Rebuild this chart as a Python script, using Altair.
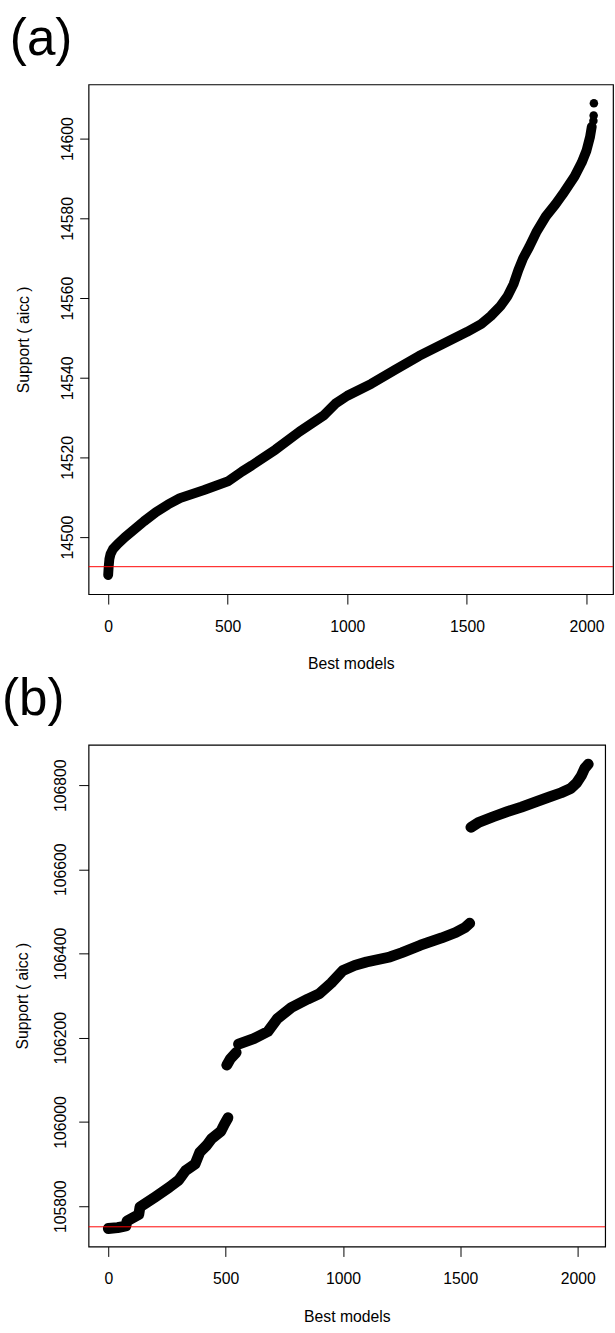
import altair as alt
import pandas as pd

FONT = "Liberation Sans"
panel_labels = ["(a)", "(b)"]
x_title = "Best models"
y_title = "Support ( aicc )"
x_ticks = [0, 500, 1000, 1500, 2000]

# ---- panel (a) ----
a_idx = [0, 2, 5, 10, 20, 40, 70, 100, 150, 200, 250, 300, 400, 500, 560, 600,
         700, 800, 900, 950, 1000, 1100, 1200, 1300, 1400, 1500, 1560, 1600,
         1640, 1670, 1695, 1715, 1735, 1760, 1790, 1830, 1870, 1900, 1950, 1980,
         2000, 2015, 2022]
a_val = [14490.5, 14492.5, 14494.5, 14495.8, 14497.0, 14498.3, 14500.0, 14501.5,
         14504.0, 14506.3, 14508.2, 14509.8, 14511.8, 14514.0, 14516.5, 14518.0,
         14522.0, 14526.5, 14530.5, 14533.5, 14535.5, 14538.5, 14542.0, 14545.5,
         14548.5, 14551.5, 14553.5, 14555.5, 14558.0, 14560.5, 14563.5, 14567.0,
         14570.0, 14572.8, 14576.5, 14580.5, 14583.5, 14586.0, 14590.5, 14594.0,
         14597.0, 14600.5, 14603.0]
a_dot_idx = [2029, 2030, 2031]
a_dot_val = [14604.5, 14605.8, 14608.9]
a_ref = 14492.6
a_y_ticks = [14500, 14520, 14540, 14560, 14580, 14600]

# ---- panel (b) ----
b_seg = ([1] * 17) + ([2] * 3) + ([3] * 18) + ([4] * 13)
b_idx = [0, 40, 75, 80, 130, 135, 200, 260, 300, 330, 370, 390, 420, 440, 480, 495, 510,
         505, 520, 545,
         555, 620, 680, 720, 780, 850, 900, 950, 1000, 1050, 1100, 1200, 1250, 1330, 1420, 1480, 1520, 1540,
         1545, 1580, 1640, 1700, 1760, 1830, 1880, 1930, 1970, 1995, 2015, 2030, 2045]
b_val = [105747, 105749, 105753, 105765, 105780, 105798, 105822, 105845, 105862, 105885,
         105900, 105928, 105945, 105960, 105978, 105995, 106010,
         106135, 106150, 106165,
         106185, 106198, 106215, 106245, 106272, 106292, 106305, 106330, 106360, 106372,
         106380, 106392, 106402, 106420, 106437, 106450, 106462, 106472,
         106700, 106712, 106725, 106737, 106748, 106762, 106772, 106782, 106792, 106805,
         106822, 106840, 106850]
b_ref = 105751
b_y_ticks = [105800, 106000, 106200, 106400, 106600, 106800]


def panel(df, dots, ref, label, xdom, ydom, yticks, w, h, lab_x, ytitle_x,
          ytick, ylabpad, sw):
    xs = alt.Scale(domain=xdom, nice=False, zero=False)
    ys = alt.Scale(domain=ydom, nice=False, zero=False)
    xax = alt.Axis(values=x_ticks, format="d", title=x_title, grid=False,
                   domain=False, tickColor="black", tickSize=10, labelPadding=15,
                   labelFont=FONT, labelFontSize=16, labelColor="black",
                   titleFont=FONT, titleFontSize=16, titleFontWeight="normal",
                   titleColor="black", titleBaseline="middle", titleY=71,
                   titleX=w / 2, labelFlush=False)
    yax = alt.Axis(values=yticks, format="d", title=y_title, grid=False,
                   domain=False, tickColor="black", tickSize=ytick,
                   labelPadding=ylabpad, labelAngle=270, labelAlign="center",
                   labelBaseline="alphabetic", labelFont=FONT, labelFontSize=16,
                   labelColor="black", titleFont=FONT, titleFontSize=16,
                   titleFontWeight="normal", titleColor="black", titleAngle=270,
                   titleAlign="center", titleBaseline="middle", titleX=ytitle_x,
                   titleY=h / 2, labelFlush=False)
    line = alt.Chart(df).mark_line(
        color="black", strokeWidth=sw, strokeCap="round", strokeJoin="round"
    ).encode(
        x=alt.X("idx:Q", scale=xs, axis=xax),
        y=alt.Y("val:Q", scale=ys, axis=yax),
        detail="seg:N",
    )
    layers = [line]
    if dots is not None:
        layers.append(
            alt.Chart(dots).mark_circle(color="black", opacity=1, size=75).encode(
                x=alt.X("idx:Q", scale=xs), y=alt.Y("val:Q", scale=ys)
            )
        )
    rule = alt.Chart(pd.DataFrame({"v": [ref]})).mark_rule(
        color="#ff0000", strokeWidth=1
    ).encode(y=alt.Y("v:Q", scale=ys))
    layers.append(rule)
    txt = alt.Chart(pd.DataFrame({"t": [label]})).mark_text(
        align="left", baseline="alphabetic", font=FONT, fontSize=52, color="black"
    ).encode(x=alt.value(lab_x), y=alt.value(-30), text="t:N")
    layers.append(txt)
    return alt.layer(*layers).properties(width=w, height=h)


df_a = pd.DataFrame({"idx": a_idx, "val": a_val, "seg": [1] * len(a_idx)})
dots_a = pd.DataFrame({"idx": a_dot_idx, "val": a_dot_val})
df_b = pd.DataFrame({"idx": b_idx, "val": b_val, "seg": b_seg})

pa = panel(df_a, dots_a, a_ref, panel_labels[0], [-82, 2111], [14485.7, 14613.6],
           a_y_ticks, 533, 518, -80, -66, 9, 7, 10)
pb = panel(df_b, None, b_ref, panel_labels[1], [-84, 2117], [105704, 106896],
           b_y_ticks, 525, 510, -88, -67, 10, 13, 11)

chart = alt.concat(pa, pb, columns=1, spacing=0).properties(
    align="none",
    padding={"left": 1, "top": 2, "right": 0, "bottom": 0},
    background="white",
).configure_view(stroke="black", strokeWidth=1.2)

chart.save("out.html", embed_options={"renderer": "svg", "actions": False})
